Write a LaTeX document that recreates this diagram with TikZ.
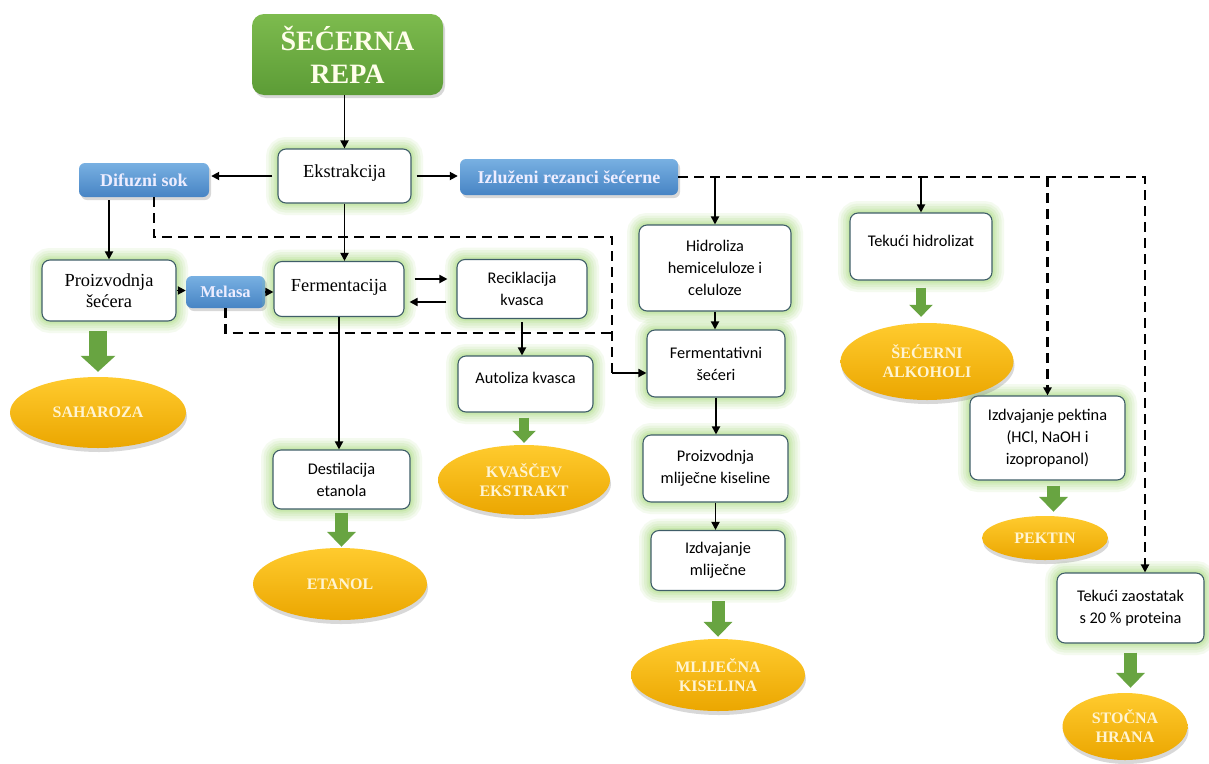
\documentclass[tikz,border=0pt]{standalone}
\usepackage{fontspec}
\setmainfont{Liberation Serif}
\newfontfamily\calib{Carlito}
\usetikzlibrary{shapes.geometric,arrows.meta,shadows}

\definecolor{boxline}{HTML}{3F5E68}
\definecolor{glowgreen}{HTML}{A9DC7E}
\definecolor{repatop}{HTML}{7DBB4E}
\definecolor{repabot}{HTML}{5C9C36}
\definecolor{bluetop}{HTML}{78B0E2}
\definecolor{bluebot}{HTML}{4784C4}
\definecolor{goldtop}{HTML}{FFCB2E}
\definecolor{goldbot}{HTML}{EBA600}
\definecolor{cream}{HTML}{FFF4D2}
\definecolor{arrowgreen}{HTML}{68A441}

\tikzset{
  glow/.style={preaction={draw=glowgreen,line width=24pt,opacity=.12},
               preaction={draw=glowgreen,line width=19pt,opacity=.14},
               preaction={draw=glowgreen,line width=14pt,opacity=.16},
               preaction={draw=glowgreen,line width=9pt,opacity=.2},
               preaction={draw=glowgreen,line width=5pt,opacity=.25}},
  stepbox/.style={glow,draw=boxline,line width=1.1pt,fill=white,rounded corners=8pt,
                  align=center,inner sep=2pt,font=\calib\fontsize{16.3}{22}\selectfont},
  serifbox/.style={stepbox,font=\fontsize{18.4}{21.5}\selectfont},
  bluebox/.style={rounded corners=6pt,top color=bluetop,bottom color=bluebot,inner sep=0pt,
                  text=white!93!blue,font=\bfseries\fontsize{18}{20}\selectfont,
                  drop shadow={opacity=.3,shadow xshift=2pt,shadow yshift=-3pt}},
  repabox/.style={rounded corners=12pt,top color=repatop,bottom color=repabot,align=center,
                  text=white!92!yellow,font=\bfseries\fontsize{28}{33}\selectfont,
                  drop shadow={opacity=.3,shadow xshift=2pt,shadow yshift=-3pt}},
  product/.style={ellipse,top color=goldtop,bottom color=goldbot,inner sep=0pt,align=center,
                  text=cream,font=\bfseries\fontsize{16}{19}\selectfont,
                  drop shadow={opacity=.3,shadow xshift=1pt,shadow yshift=-4pt}},
  conn/.style={-{Triangle[length=8pt,width=8pt]},line width=1.8pt},
  dline/.style={line width=2.2pt,dash pattern=on 10pt off 6pt},
  blockarrow/.style={draw=arrowgreen,line width=13pt,-{Triangle[length=15pt,width=28pt]}}
}

\begin{document}
\begin{tikzpicture}[x=1pt,y=-1pt]
\fill[white] (0,0) rectangle (1209,763);
\useasboundingbox (0,0) rectangle (1209,763);

\node[repabox,minimum width=191pt,minimum height=81pt] (repa) at (347.5,54.5) {ŠEĆERNA\\REPA};
\node[serifbox,minimum width=133pt,minimum height=54pt,text depth=9pt] (ekstr) at (344.5,176) {Ekstrakcija};
\node[bluebox,minimum width=130pt,minimum height=34pt] (difuz) at (144,180) {Difuzni sok};
\node[bluebox,minimum width=218pt,minimum height=36pt] (izluz) at (569,177) {Izluženi rezanci šećerne};
\node[serifbox,minimum width=134pt,minimum height=61pt] (proizs) at (109,290.5) {Proizvodnja\\šećera};
\node[bluebox,minimum width=79pt,minimum height=32pt,font=\bfseries\fontsize{16.5}{18}\selectfont] (melasa) at (225.5,292) {Melasa};
\node[serifbox,minimum width=130pt,minimum height=55pt,text depth=7pt] (ferm) at (339,289) {Fermentacija};
\node[stepbox,minimum width=130pt,minimum height=59pt] (recik) at (522,289) {Reciklacija\\kvasca};
\node[stepbox,minimum width=135pt,minimum height=56pt,text depth=12pt] (autol) at (525.5,384) {Autoliza kvasca};
\node[stepbox,minimum width=137pt,minimum height=59pt] (destil) at (341.5,479.5) {Destilacija\\etanola};
\node[stepbox,minimum width=152pt,minimum height=86pt] (hidro) at (715,268) {Hidroliza\\hemiceluloze i\\celuloze};
\node[stepbox,minimum width=138pt,minimum height=67pt] (fermsec) at (716,363.5) {Fermentativni\\šećeri};
\node[stepbox,minimum width=145pt,minimum height=67pt] (proizm) at (715.5,468.5) {Proizvodnja\\mliječne kiseline};
\node[stepbox,minimum width=134pt,minimum height=60pt] (izdm) at (718,560.5) {Izdvajanje\\mliječne};
\node[stepbox,minimum width=142pt,minimum height=67pt,text depth=12pt] (tekh) at (921,246.5) {Tekući hidrolizat};
\node[stepbox,minimum width=155pt,minimum height=84pt] (pekt) at (1047.5,438) {Izdvajanje pektina\\(HCl, NaOH i\\izopropanol)};
\node[stepbox,minimum width=147pt,minimum height=70pt] (tekz) at (1130.5,608) {Tekući zaostatak\\s 20 \% proteina};

\node[product,minimum width=176pt,minimum height=71pt] (sah) at (98,412.5) {SAHAROZA};
\node[product,minimum width=174pt,minimum height=72pt] (etan) at (340,584) {ETANOL};
\node[product,minimum width=172pt,minimum height=70pt] (kvas) at (524,480) {KVAŠČEV\\EKSTRAKT};
\node[product,minimum width=174pt,minimum height=72pt] (mlij) at (718,675) {MLIJEČNA\\KISELINA};
\node[product,minimum width=173pt,minimum height=77pt] (secalk) at (927,361.5) {ŠEĆERNI\\ALKOHOLI};
\node[product,minimum width=126pt,minimum height=44pt] (pektin) at (1045,538) {PEKTIN};
\node[product,minimum width=125pt,minimum height=67pt] (stoc) at (1125,726.5) {STOČNA\\HRANA};

\coordinate (dtop) at (612,237);
\coordinate (mjoin) at (612,333);
\coordinate (dbot) at (612,373);
\coordinate (bus) at (1145,177);

\draw[dline] ([xshift=10pt]difuz.south) |- (dtop) -- (dbot);
\draw[dline] (melasa.south) |- (mjoin);
\draw[conn] (dbot) -- (dbot -| fermsec.west);
\draw[dline,-{Triangle[length=8pt,width=8pt]}] (izluz.east) -- (bus) -- (bus |- tekz.north);
\draw[dline,-{Triangle[length=8pt,width=8pt]}] (izluz.east -| pekt.north) -- (pekt.north);

\draw[conn] (repa.south -| ekstr.north) -- (ekstr.north);
\draw[conn,shorten <=5pt,shorten >=2pt] (ekstr.west) -- (ekstr.west -| difuz.east);
\draw[conn,shorten <=5pt,shorten >=2pt] (ekstr.east) -- (ekstr.east -| izluz.west);
\draw[conn] (ekstr.south) -- (ekstr.south |- ferm.north);
\draw[conn,shorten <=3pt] (proizs.north |- difuz.south) -- (proizs.north);
\draw[conn] (proizs.east) -- (proizs.east -| melasa.west);
\draw[conn] (melasa.east) -- (melasa.east -| ferm.west);
\draw[conn,shorten <=10pt,shorten >=9pt] ([yshift=10pt]ferm.east) -- ([yshift=10pt]recik.west);
\draw[conn,shorten <=10pt,shorten >=5pt] ([yshift=-13pt]recik.west) -- ([yshift=-13pt]ferm.east);
\draw[conn,shorten <=3pt] (recik.south) -- (recik.south |- autol.north);
\draw[conn] (ferm.south) -- (ferm.south |- destil.north);
\draw[conn] (izluz.east -| hidro.north) -- (hidro.north);
\draw[conn] (izluz.east -| tekh.north) -- (tekh.north);
\draw[conn] (hidro.south) -- (hidro.south |- fermsec.north);
\draw[conn] (fermsec.south) -- (fermsec.south |- proizm.north);
\draw[conn] (proizm.south) -- (proizm.south |- izdm.north);

\draw[blockarrow,line width=18pt,-{Triangle[length=16pt,width=34pt]},shorten <=9pt,shorten >=5pt] (sah.north |- proizs.south) -- (sah.north);
\draw[blockarrow,shorten <=3pt,shorten >=1pt] (destil.south) -- (destil.south |- etan.north);
\draw[blockarrow,line width=10pt,-{Triangle[length=12pt,width=23pt]},shorten <=5pt,shorten >=2pt] (kvas.north |- autol.south) -- (kvas.north);
\draw[blockarrow,shorten <=10pt,shorten >=2pt] (mlij.north |- izdm.south) -- (mlij.north);
\draw[blockarrow,line width=10pt,-{Triangle[length=12pt,width=23pt]},shorten <=7pt,shorten >=6pt] (tekh.south) -- (tekh.south |- secalk.north);
\draw[blockarrow,shorten <=5pt,shorten >=4pt] ([xshift=6pt]pekt.south) -- ([xshift=6pt]pekt.south |- pektin.north);
\draw[blockarrow,shorten <=9pt,shorten >=5pt] (tekz.south) -- (tekz.south |- stoc.north);
\end{tikzpicture}
\end{document}
